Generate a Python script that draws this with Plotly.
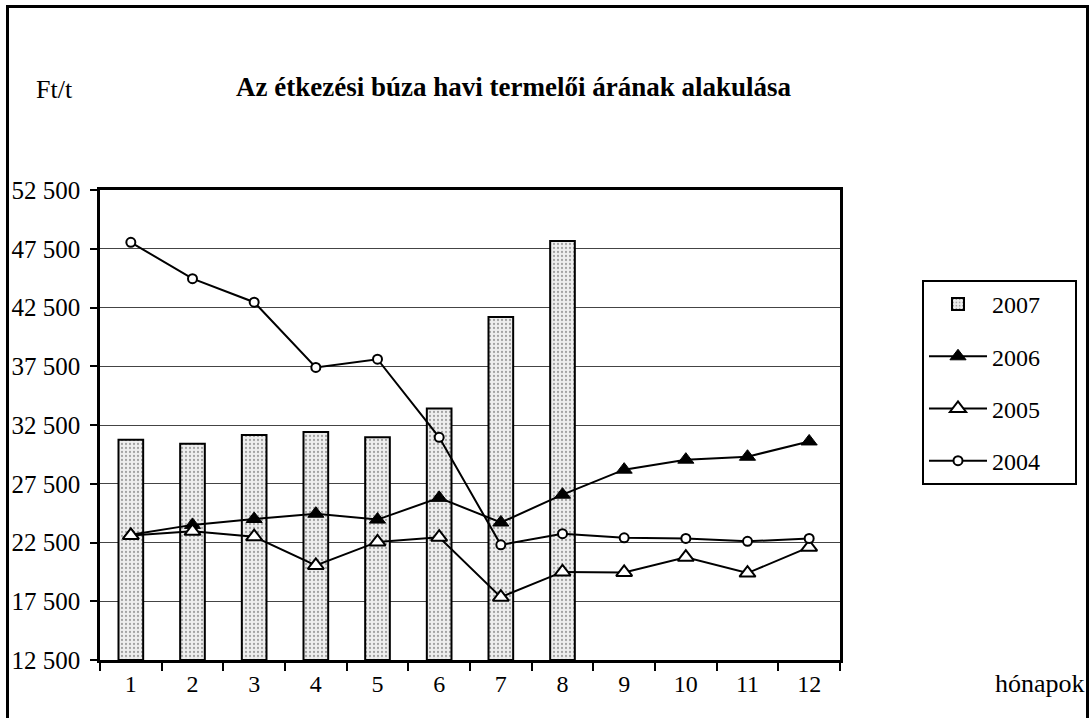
import plotly.graph_objects as go

months = ["1", "2", "3", "4", "5", "6", "7", "8", "9", "10", "11", "12"]
y2007 = [31250, 30900, 31650, 31900, 31450, 33900, 41700, 48150]
y2006 = [23150, 24000, 24500, 24950, 24450, 26300, 24200, 26570, 28700, 29550, 29800, 31100]
y2005 = [23100, 23450, 23000, 20550, 22550, 22950, 17850, 20000, 19950, 21250, 19900, 22100]
y2004 = [48050, 44950, 42950, 37400, 38100, 31450, 22300, 23250, 22900, 22850, 22600, 22850]
ytick_vals = [12500, 17500, 22500, 27500, 32500, 37500, 42500, 47500, 52500]
ytick_text = ["12 500", "17 500", "22 500", "27 500", "32 500", "37 500", "42 500", "47 500", "52 500"]

FONT = "Liberation Serif"
W, H = 1089, 718
L, R, T, B = 100, 1089 - 840, 190, 718 - 660
pw, ph = W - L - R, H - T - B

def px(x):
    return (x - L) / pw

def py(y):
    return (H - B - y) / ph

fig = go.Figure()
base = ytick_vals[0]
fig.add_trace(go.Bar(
    x=months[:len(y2007)], y=[v - base for v in y2007], base=base,
    name="2007\u00a0\u00a0\u00a0\u00a0\u00a0", width=0.4, legendgroup="a",
    marker=dict(color="#e6e6e6", line=dict(color="black", width=2),
                pattern=dict(shape=".", fgcolor="#555555", bgcolor="#eeeeee", size=4, solidity=0.25)),
))
fig.add_trace(go.Scatter(
    x=months, y=y2006, name="2006", mode="lines+markers", legendgroup="b",
    line=dict(color="black", width=2),
    marker=dict(symbol="triangle-up", size=14, color="black", line=dict(color="black", width=1)),
))
fig.add_trace(go.Scatter(
    x=months, y=y2005, name="2005", mode="lines+markers", legendgroup="c",
    line=dict(color="black", width=2),
    marker=dict(symbol="triangle-up", size=14, color="white", line=dict(color="black", width=2)),
))
fig.add_trace(go.Scatter(
    x=months, y=y2004, name="2004", mode="lines+markers", legendgroup="d",
    line=dict(color="black", width=2),
    marker=dict(symbol="circle", size=9, color="white", line=dict(color="black", width=2)),
))

fig.update_layout(
    width=W, height=H,
    margin=dict(l=L, r=R, t=T, b=B, autoexpand=False),
    paper_bgcolor="white", plot_bgcolor="white",
    font=dict(family=FONT, size=24, color="black"),
    showlegend=True,
    legend=dict(x=px(922), y=py(280), xanchor="left", yanchor="top",
                bordercolor="black", borderwidth=2, bgcolor="white",
                font=dict(family=FONT, size=24), traceorder="grouped",
                tracegroupgap=18, itemwidth=58),
    bargap=0.6,
)
fig.update_xaxes(
    type="category", range=[-0.5, 11.5], tickson="boundaries", automargin=False,
    ticks="outside", ticklen=8, tickwidth=2, tickcolor="black",
    showline=True, linecolor="black", linewidth=2.5, mirror=True,
    showgrid=False, tickfont=dict(family=FONT, size=24),
)
fig.update_yaxes(
    range=[12500, 52500], tickvals=ytick_vals, ticktext=ytick_text, automargin=False,
    ticks="outside", ticklen=7, tickwidth=2, tickcolor="black",
    showline=True, linecolor="black", linewidth=2.5, mirror=True,
    showgrid=True, gridcolor="#444444", gridwidth=1,
    tickfont=dict(family=FONT, size=25), ticklabelstandoff=5,
    zeroline=False,
)

fig.add_annotation(text="<b>Az étkezési búza havi termelői árának alakulása</b>",
                   xref="paper", yref="paper", x=px(513), y=py(87),
                   xanchor="center", yanchor="middle", showarrow=False,
                   font=dict(family=FONT, size=27))
fig.add_annotation(text="Ft/t", xref="paper", yref="paper", x=px(54.5), y=py(90),
                   xanchor="center", yanchor="middle", showarrow=False,
                   font=dict(family=FONT, size=26))
fig.add_annotation(text="hónapok", xref="paper", yref="paper", x=px(1040), y=py(683),
                   xanchor="center", yanchor="middle", showarrow=False,
                   font=dict(family=FONT, size=26))
fig.add_shape(type="rect", xref="paper", yref="paper",
              x0=px(7.5), x1=px(1087.5), y0=py(760), y1=py(6.5),
              line=dict(color="black", width=3), fillcolor="rgba(0,0,0,0)", layer="above")

fig.write_html("out.html", config={"displayModeBar": False},
               post_script="document.body.style.margin='0';")
